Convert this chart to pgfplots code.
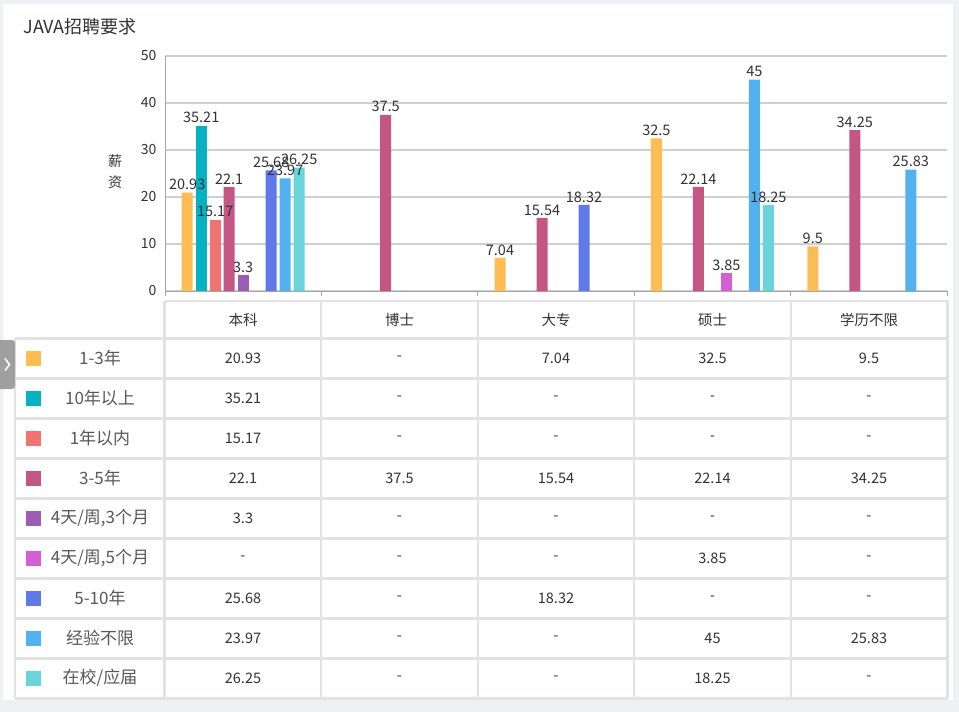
\documentclass[border=0pt]{standalone}
\usepackage{fontspec}
\setmainfont{Noto Sans CJK SC}
\usepackage{pgfplots}
\pgfplotsset{compat=1.18}
\usepackage{pgfplotstable}

\definecolor{c1}{HTML}{FEBD52}
\definecolor{c2}{HTML}{06B1C2}
\definecolor{c3}{HTML}{F07372}
\definecolor{c4}{HTML}{C45684}
\definecolor{c5}{HTML}{9B5DB5}
\definecolor{c6}{HTML}{D35FD5}
\definecolor{c7}{HTML}{5F79E8}
\definecolor{c8}{HTML}{52B2EF}
\definecolor{c9}{HTML}{6BD3DA}
\definecolor{bgc}{HTML}{EEF0F4}
\definecolor{txt}{HTML}{333333}
\definecolor{gridc}{HTML}{CFCFCF}
\definecolor{tline}{HTML}{E2E2E2}

% rows: categories (0 本科, 1 博士, 2 大专, 3 硕士, 4 学历不限); columns: series
\pgfplotstableread{
x s1 s2 s3 s4 s5 s6 s7 s8 s9
0 20.93 35.21 15.17 22.1 3.3 nan 25.68 23.97 26.25
1 nan nan nan 37.5 nan nan nan nan nan
2 7.04 nan nan 15.54 nan nan 18.32 nan nan
3 32.5 nan nan 22.14 nan 3.85 nan 45 18.25
4 9.5 nan nan 34.25 nan nan nan 25.83 nan
}\salary

\newcommand{\trow}[8]{%
  \pgfmathsetmacro{\yy}{318.3+40*#1}%
  \fill[#3] (26,\yy-7.5) rectangle (41,\yy+7.5);
  \node[rowlab] at (100,\yy) {#2};
  \node[val] at (243,\yy) {#4};
  \node[val] at (399.5,\yy) {#5};
  \node[val] at (556,\yy) {#6};
  \node[val] at (712.5,\yy) {#7};
  \node[val] at (869,\yy) {#8};
}

\begin{document}
\begin{tikzpicture}
\begin{scope}[x=1pt,y=-1pt]
  \fill[bgc] (0,0) rectangle (959,712);
  \fill[white] (3,4) rectangle (953,700);
  \node[anchor=west, text=txt, font=\fontsize{18}{21}\selectfont] at (20,27) {JAVA招聘要求};
\end{scope}

\begin{axis}[
  at={(165pt,-291pt)}, anchor=south west,
  scale only axis, width=782pt, height=235pt,
  xmin=-0.5, xmax=4.5, ymin=0, ymax=50,
  ytick={0,10,20,30,40,50},
  xtick={-0.5,0.5,1.5,2.5,3.5,4.5}, xticklabels={},
  axis x line*=bottom, axis y line*=left,
  axis line style={color=gray!70, line width=1pt},
  x axis line style={-}, y axis line style={-},
  tick align=outside, major tick length=5pt,
  xtick style={color=gray!70, line width=1pt},
  ytick style={draw=none},
  ymajorgrids, grid style={color=gridc, line width=1.5pt},
  /pgf/number format/assume math mode=true,
  yticklabel style={text=txt, font=\fontsize{14}{16}\selectfont},
  ylabel={薪\\资},
  ylabel style={rotate=-90, align=center, text=txt, font=\fontsize{14}{21}\selectfont,
    at={(axis description cs:0,0.506)}, anchor=center, xshift=-50pt},
  ybar=3pt, bar width=11pt,
  nodes near coords,
  every node near coord/.append style={text=txt, font=\fontsize{14.5}{16}\selectfont, inner sep=2.5pt},
  clip=false,
]
\addplot[fill=c1, draw=none] table[x=x, y=s1]{\salary};
\addplot[fill=c2, draw=none] table[x=x, y=s2]{\salary};
\addplot[fill=c3, draw=none] table[x=x, y=s3]{\salary};
\addplot[fill=c4, draw=none] table[x=x, y=s4]{\salary};
\addplot[fill=c5, draw=none] table[x=x, y=s5]{\salary};
\addplot[fill=c6, draw=none] table[x=x, y=s6]{\salary};
\addplot[fill=c7, draw=none] table[x=x, y=s7]{\salary};
\addplot[fill=c8, draw=none] table[x=x, y=s8]{\salary};
\addplot[fill=c9, draw=none] table[x=x, y=s9]{\salary};
\end{axis}

\begin{scope}[x=1pt,y=-1pt,
  val/.style={text=txt, font=\fontsize{14.5}{16}\selectfont},
  rowlab/.style={text=black!65, font=\fontsize{17}{19}\selectfont}]
  % table grid
  \draw[tline, line width=2.5pt] (165,301) -- (947.5,301);
  \foreach \r in {0,...,9} {
    \draw[tline, line width=2.5pt] (15,338.3+40*\r) -- (947.5,338.3+40*\r);
  }
  \draw[tline, line width=2.5pt] (15,338.3) -- (15,698.3);
  \foreach \c in {164.5,321,478,634,791,947.5} {
    \draw[tline, line width=2.5pt] (\c,301) -- (\c,698.3);
  }
  % header
  \node[val] at (243,320) {本科};
  \node[val] at (399.5,320) {博士};
  \node[val] at (556,320) {大专};
  \node[val] at (712.5,320) {硕士};
  \node[val] at (869,320) {学历不限};
  % rows
  \trow{1}{1-3年}{c1}{20.93}{-}{7.04}{32.5}{9.5}
  \trow{2}{10年以上}{c2}{35.21}{-}{-}{-}{-}
  \trow{3}{1年以内}{c3}{15.17}{-}{-}{-}{-}
  \trow{4}{3-5年}{c4}{22.1}{37.5}{15.54}{22.14}{34.25}
  \trow{5}{4天/周,3个月}{c5}{3.3}{-}{-}{-}{-}
  \trow{6}{4天/周,5个月}{c6}{-}{-}{-}{3.85}{-}
  \trow{7}{5-10年}{c7}{25.68}{-}{18.32}{-}{-}
  \trow{8}{经验不限}{c8}{23.97}{-}{-}{45}{25.83}
  \trow{9}{在校/应届}{c9}{26.25}{-}{-}{18.25}{-}
  % side tab
  \begin{scope}
    \clip (0,0) rectangle (959,712);
    \fill[gray!75, rounded corners=3pt] (-4,340) rectangle (15,389);
  \end{scope}
  \draw[white, line width=1.6pt] (5,358.5) -- (9.5,364.5) -- (5,370.5);
\end{scope}
\end{tikzpicture}
\end{document}
